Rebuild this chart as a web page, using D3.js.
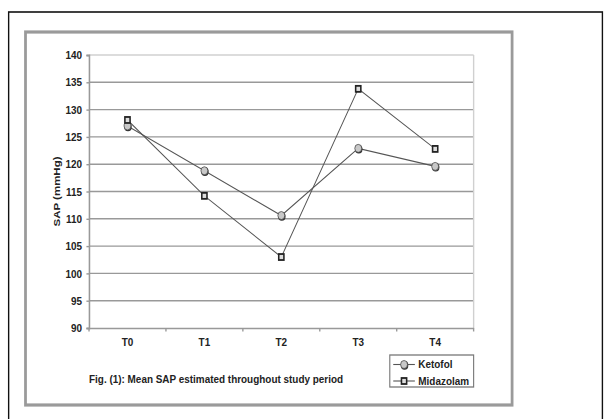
<!DOCTYPE html>
<html><head><meta charset="utf-8">
<script src="https://cdn.jsdelivr.net/npm/d3@7/dist/d3.min.js"></script>
<style>body{margin:0;background:#fff}svg{display:block}text{font-family:"Liberation Sans",Arial,sans-serif;font-weight:bold;fill:#222}</style>
</head><body><svg id="c" width="605" height="419"></svg>
<script>
const categories = ["T0","T1","T2","T3","T4"];
const ketofol = [127, 118.8, 110.6, 122.9, 119.6];
const midazolam = [128.1, 114.2, 103, 133.8, 122.8];
const yTicks = [90,95,100,105,110,115,120,125,130,135,140];
const seriesNames = ["Ketofol","Midazolam"];
const caption = "Fig. (1): Mean SAP estimated throughout study period";
const yTitle = "SAP (mmHg)";

const SX = 605/700;
const FS = 11.5;
const svg = d3.select("#c").append("g").attr("transform",`scale(${SX},1)`);
// outer black frame
svg.append("rect").attr("x",10).attr("y",12).attr("width",687).attr("height",480)
  .attr("fill","none").attr("stroke","#111").attr("stroke-width",1.6);
// inner gray frame
svg.append("rect").attr("x",29.5).attr("y",32).attr("width",563).attr("height",373)
  .attr("fill","none").attr("stroke","#9a9a9a").attr("stroke-width",3.2);

const L=103,R=548,T=55,B=328;
const x = d3.scaleBand().domain(categories).range([L,R]);
const y = d3.scaleLinear().domain([90,140]).range([B,T]);

// gridlines
svg.append("g").selectAll("line").data(yTicks.filter(v=>v>90)).join("line")
  .attr("x1",L).attr("x2",R).attr("y1",d=>y(d)).attr("y2",d=>y(d))
  .attr("stroke",d=>d===140?"#d0d0d0":"#999").attr("stroke-width",1.4);
svg.append("line").attr("x1",R).attr("x2",R).attr("y1",T).attr("y2",B)
  .attr("stroke","#d0d0d0").attr("stroke-width",1.6);

// y axis
const ya = svg.append("g").attr("transform",`translate(${L},0)`)
  .call(d3.axisLeft(y).tickValues(yTicks).tickSize(3).tickPadding(5));
ya.select(".domain").attr("stroke","#999").attr("stroke-width",1.8);
ya.selectAll(".tick line").attr("stroke","#999").attr("stroke-width",1.4);
ya.selectAll("text").attr("font-size",FS).attr("font-family","Liberation Sans, Arial, sans-serif").attr("font-weight","bold").attr("fill","#222");

// x axis
const xa = svg.append("g").attr("transform",`translate(0,${B})`)
  .call(d3.axisBottom(x).tickSize(0).tickPadding(10));
xa.select(".domain").attr("stroke","#999").attr("stroke-width",1.6);
xa.selectAll("text").attr("font-size",FS).attr("font-family","Liberation Sans, Arial, sans-serif").attr("font-weight","bold").attr("fill","#222");
svg.append("g").selectAll("line").data(d3.range(categories.length+1)).join("line")
  .attr("x1",i=>L+i*x.step()).attr("x2",i=>L+i*x.step()).attr("y1",B).attr("y2",B+3.5)
  .attr("stroke","#999").attr("stroke-width",1.6);

// y title
svg.append("text").attr("transform",`translate(69,${(T+B)/2}) rotate(-90)`)
  .attr("text-anchor","middle").attr("font-size",FS).text(yTitle);

const cx = d=>x(d)+x.bandwidth()/2;
const line = d3.line().x((d,i)=>cx(categories[i])).y(d=>y(d));

function drawSeries(vals, kind){
  svg.append("path").attr("d",line(vals)).attr("fill","none").attr("stroke","#555").attr("stroke-width",1.1);
  const g = svg.append("g");
  vals.forEach((v,i)=>drawMarker(g, cx(categories[i]), y(v), kind));
}
function drawMarker(g, px, py, kind){
  if(kind==="circle"){
    g.append("circle").attr("cx",px+0.6).attr("cy",py+0.9).attr("r",4.3).attr("fill","#333");
    g.append("circle").attr("cx",px).attr("cy",py).attr("r",4).attr("fill","#c8c8c8").attr("stroke","#444").attr("stroke-width",0.8);
  } else {
    g.append("rect").attr("x",px-3).attr("y",py-3).attr("width",6).attr("height",6)
      .attr("fill","#ddd").attr("stroke","#222").attr("stroke-width",1.8);
  }
}
drawSeries(ketofol,"circle");
drawSeries(midazolam,"square");

// caption
svg.append("text").attr("x",103).attr("y",383).attr("font-size",FS).text(caption);

// legend
const lg = svg.append("g");
lg.append("rect").attr("x",451).attr("y",355).attr("width",97).attr("height",32)
  .attr("fill","#fff").attr("stroke","#777").attr("stroke-width",1.3);
seriesNames.forEach((n,i)=>{
  const ly = 364.5 + i*16.5;
  lg.append("line").attr("x1",455).attr("x2",480).attr("y1",ly).attr("y2",ly).attr("stroke","#555").attr("stroke-width",1.1);
  drawMarker(lg, 467.5, ly, i===0?"circle":"square");
  lg.append("text").attr("x",484).attr("y",ly+4).attr("font-size",FS).text(n);
});
</script></body></html>
